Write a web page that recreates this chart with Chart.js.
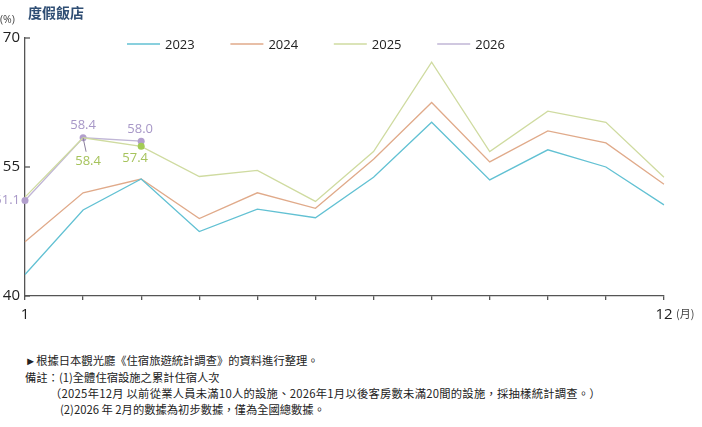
<!DOCTYPE html>
<html>
<head>
<meta charset="utf-8">
<script src="https://cdn.jsdelivr.net/npm/chart.js@4.4.1/dist/chart.umd.min.js"></script>
<style>
  html, body { margin: 0; padding: 0; background: #fff; }
  body { width: 702px; height: 427px; position: relative; overflow: hidden; font-family: "Noto Sans CJK TC", "Noto Sans", sans-serif; }
  #wrap { position: absolute; left: 0; top: 0; width: 702px; height: 340px; }
  .t { position: absolute; white-space: nowrap; color: #222; }
  #title { left: 28px; top: 2px; font-size: 14px; font-weight: bold; color: #2f4e74; }
  #pct { left: 0px; top: 12px; font-size: 10.5px; color: #444; font-family: "Open Sans", sans-serif; }
  #mon { left: 676px; top: 305px; font-size: 11px; color: #444; }
  .note { font-size: 11.3px; line-height: 16px; }
</style>
</head>
<body>
<div id="wrap"><canvas id="c"></canvas></div>
<div class="t" id="title">度假飯店</div>
<div class="t" id="pct">(%)</div>
<div class="t" id="mon">(月)</div>
<div class="t note" style="left:25px; top:352px;">►根據日本觀光廳《住宿旅遊統計調查》的資料進行整理。</div>
<div class="t note" style="left:25px; top:369px;">備註：(1)全體住宿設施之累計住宿人次</div>
<div class="t note" style="left:50px; top:385px; letter-spacing:0.25px;">（2025年12月 以前從業人員未滿10人的設施、2026年1月以後客房數未滿20間的設施，採抽樣統計調查。）</div>
<div class="t note" style="left:60px; top:401px;">(2)2026 年 2月的數據為初步數據，僅為全國總數據。</div>
<script>
const months = ['1','2','3','4','5','6','7','8','9','10','11','12'];
const s2023 = [42.5, 50.0, 53.6, 47.5, 50.1, 49.1, 53.8, 60.2, 53.5, 57.0, 55.0, 50.6];
const s2024 = [46.3, 52.0, 53.6, 49.0, 52.0, 50.2, 55.9, 62.5, 55.6, 59.2, 57.8, 53.0];
const s2025 = [51.5, 58.4, 57.4, 53.9, 54.6, 51.0, 56.8, 67.2, 56.8, 61.5, 60.2, 53.8];
const s2026 = [51.1, 58.4, 58.0];
const seriesNames = ['2023', '2024', '2025', '2026'];
const yTicks = [40, 55, 70];

const cols = ['#62c1d3', '#e0aa8a', '#cfdba0', '#c0b6d6'];
const purpleTxt = '#a797c7';
const greenTxt = '#a6c35c';
const axisCol = '#555';

const customPlugin = {
  id: 'custom',
  afterDraw(chart) {
    const ctx = chart.ctx;
    const xs = chart.scales.x, ys = chart.scales.y;
    ctx.save();
    // inward y ticks
    ctx.strokeStyle = axisCol; ctx.lineWidth = 1.3;
    yTicks.forEach(v => {
      const y = ys.getPixelForValue(v);
      ctx.beginPath(); ctx.moveTo(xs.left, y); ctx.lineTo(xs.left + 5, y); ctx.stroke();
    });
    // legend
    ctx.font = '13px "Open Sans", sans-serif';
    ctx.textBaseline = 'middle'; ctx.textAlign = 'left';
    chart.data.datasets.forEach((ds, i) => {
      const x0 = 127 + i * 103.4, y0 = 44;
      ctx.strokeStyle = ds.borderColor; ctx.lineWidth = 1.3;
      ctx.beginPath(); ctx.moveTo(x0, y0); ctx.lineTo(x0 + 33, y0); ctx.stroke();
      ctx.fillStyle = '#222';
      ctx.fillText(ds.label, x0 + 38, y0 + 1);
    });
    // data labels
    ctx.font = '13px "Open Sans", sans-serif';
    const m26 = chart.getDatasetMeta(3).data;
    const m25 = chart.getDatasetMeta(2).data;
    // leader line for Feb 2025
    ctx.strokeStyle = '#8a7f9c'; ctx.lineWidth = 1;
    ctx.beginPath(); ctx.moveTo(m25[1].x, m25[1].y); ctx.lineTo(m25[1].x + 3, m25[1].y + 14); ctx.stroke();
    ctx.fillStyle = purpleTxt;
    ctx.textAlign = 'right';
    ctx.fillText(s2026[0].toFixed(1), m26[0].x - 5, m26[0].y);
    ctx.textAlign = 'center';
    ctx.fillText(s2026[1].toFixed(1), m26[1].x, m26[1].y - 12);
    ctx.fillText(s2026[2].toFixed(1), m26[2].x - 1, m26[2].y - 12);
    ctx.fillStyle = greenTxt;
    ctx.fillText(s2025[1].toFixed(1), m25[1].x + 5, m25[1].y + 24);
    ctx.fillText(s2025[2].toFixed(1), m25[2].x - 6, m25[2].y + 12);
    ctx.restore();
  }
};

const pr25 = s2025.map((v, i) => i === 2 ? 3.5 : 0);

new Chart(document.getElementById('c'), {
  type: 'line',
  data: {
    labels: months,
    datasets: [
      { label: seriesNames[0], data: s2023, borderColor: cols[0], borderWidth: 1.3, pointRadius: 0, tension: 0 },
      { label: seriesNames[1], data: s2024, borderColor: cols[1], borderWidth: 1.3, pointRadius: 0, tension: 0 },
      { label: seriesNames[2], data: s2025, borderColor: cols[2], borderWidth: 1.3, pointRadius: pr25,
        pointBackgroundColor: '#a3cb55', pointBorderColor: '#a3cb55', pointBorderWidth: 0, tension: 0 },
      { label: seriesNames[3], data: s2026, borderColor: cols[3], borderWidth: 1.3, pointRadius: 3.5,
        pointBackgroundColor: '#b29fcd', pointBorderColor: '#b29fcd', pointBorderWidth: 0, tension: 0 }
    ]
  },
  options: {
    responsive: true,
    maintainAspectRatio: false,
    animation: false,
    layout: { padding: { left: 0, right: 38, top: 38, bottom: 0 } },
    plugins: { legend: { display: false }, tooltip: { enabled: false } },
    scales: {
      x: {
        type: 'category',
        offset: false,
        afterFit(s) { s.height = 44; },
        grid: { display: true, drawOnChartArea: false, drawTicks: true, tickLength: 4, color: axisCol, lineWidth: 1.3 },
        border: { display: true, color: axisCol, width: 1.3 },
        ticks: {
          autoSkip: false, maxRotation: 0, padding: 6, color: '#222',
          font: { family: '"Open Sans", sans-serif', size: 15 },
          callback(v, i) { return (i === 0 || i === months.length - 1) ? months[i] : ''; }
        }
      },
      y: {
        min: 40, max: 70,
        afterFit(s) { s.width = 25; },
        afterBuildTicks(s) { s.ticks = yTicks.map(v => ({ value: v })); },
        grid: { display: true, drawOnChartArea: false, drawTicks: false },
        border: { display: true, color: axisCol, width: 1.3 },
        ticks: { padding: 5, color: '#222', font: { family: '"Open Sans", sans-serif', size: 15 } }
      }
    }
  },
  plugins: [customPlugin]
});
</script>
</body>
</html>
